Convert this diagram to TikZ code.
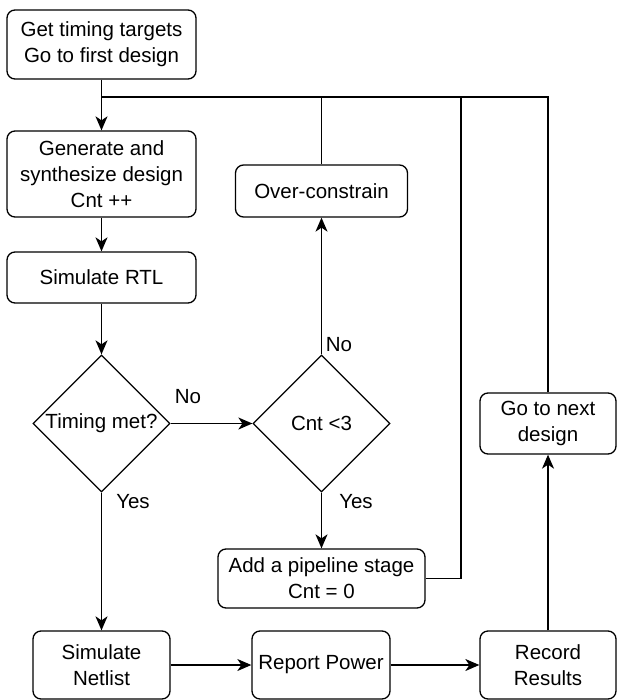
\documentclass[tikz,border=0pt]{standalone}
\usepackage{fontspec}
\setmainfont{Liberation Sans}
\usetikzlibrary{shapes.geometric,arrows.meta}
\begin{document}
\begin{tikzpicture}[x=1pt,y=-1pt,
  every node/.style={font=\fontsize{20.5}{26}\selectfont},
  box/.style={draw,line width=1.3pt,rounded corners=8pt,align=center,inner sep=0pt},
  dia/.style={draw,line width=1.3pt,shape=diamond,inner sep=0pt,minimum width=137pt,minimum height=137pt,align=center},
  ln/.style={line width=1.3pt},
  arr/.style={line width=1.3pt,-{Stealth[length=14pt,width=12pt,inset=4pt]}},
  lbl/.style={inner sep=0pt}]
\useasboundingbox (0,0) rectangle (618,700);
\node[box,minimum width=189pt,minimum height=69pt] (top) at (101.5,44.5) {Get timing targets\\Go to first design};
\node[box,minimum width=189pt,minimum height=86pt] (gen) at (101.5,174) {Generate and\\synthesize design\\Cnt ++};
\node[box,minimum width=189pt,minimum height=51pt] (sim) at (101.5,277.5) {Simulate RTL};
\node[dia] (tm) at (101.5,423.5) {Timing met?};
\node[dia] (cnt) at (321.5,423.5) {Cnt {<}3};
\node[box,minimum width=172pt,minimum height=52pt] (over) at (321.5,191) {Over-constrain};
\node[box,minimum width=207pt,minimum height=59pt] (pipe) at (321.5,578.5) {Add a pipeline stage\\Cnt = 0};
\node[box,minimum width=137pt,minimum height=68pt] (net) at (101.5,665) {Simulate\\Netlist};
\node[box,minimum width=138pt,minimum height=68pt] (pow) at (321,665) {Report Power};
\node[box,minimum width=136pt,minimum height=68pt] (rec) at (548,665) {Record\\Results};
\node[box,minimum width=136pt,minimum height=61pt] (next) at (548,423.5) {Go to next\\design};
\coordinate (J) at (101.5,97);
\coordinate (tr) at (461,97);
\draw[arr] (top) -- (gen);
\draw[ln] (next.north) |- (J);
\draw[ln] (over.north) -- (over.north |- J);
\draw[ln] (pipe.east) -| (tr);
\draw[arr] (gen) -- (sim);
\draw[arr] (sim) -- (tm);
\draw[arr] (tm.east) -- (cnt.west);
\draw[arr] (cnt.north) -- (over.south);
\draw[arr] (cnt.south) -- (pipe.north);
\draw[arr] (tm.south) -- (net.north);
\draw[arr] (net) -- (pow);
\draw[arr] (pow) -- (rec);
\draw[arr] (rec) -- (next);
\node[lbl] (l1) at (188,397) {No};
\node[lbl] (l2) at (339,345) {No};
\node[lbl] (l3) at (133,502) {Yes};
\node[lbl] (l4) at (356,502) {Yes};
\end{tikzpicture}
\end{document}
